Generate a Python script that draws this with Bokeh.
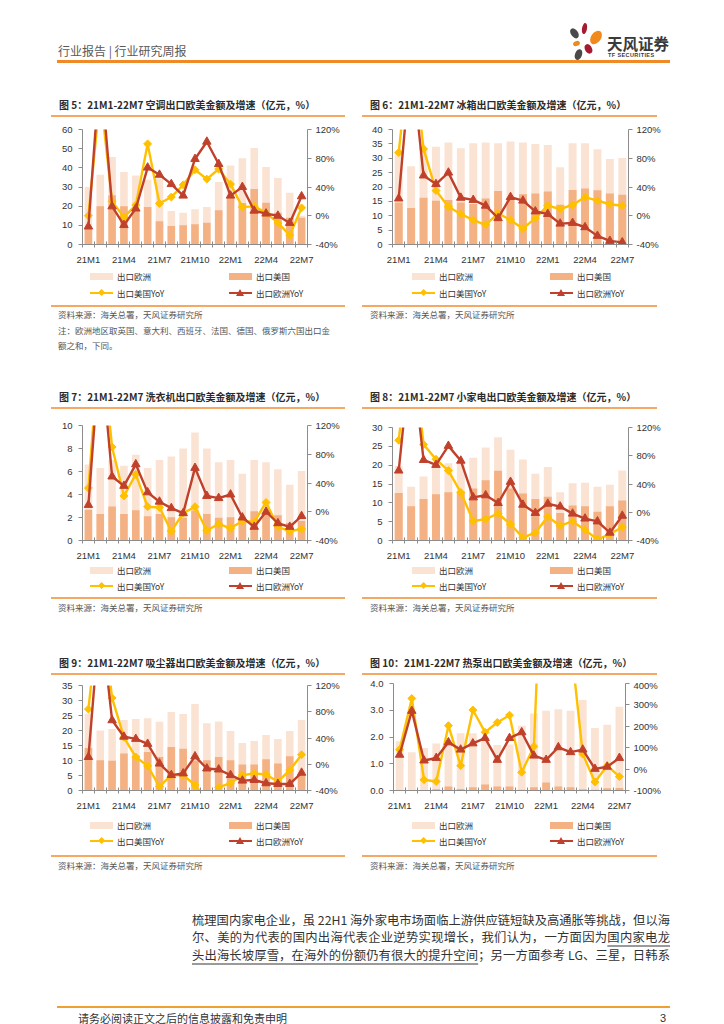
import numpy as np
from bokeh.plotting import figure
from bokeh.models import (Range1d, LinearAxis, FixedTicker, PrintfTickFormatter, Div)
from bokeh.layouts import column, row
from bokeh.embed import file_html
from bokeh.resources import INLINE

# ---------------- data ----------------
months = ["21M1", "21M2", "21M3", "21M4", "21M5", "21M6", "21M7", "21M8", "21M9",
          "21M10", "21M11", "21M12", "22M1", "22M2", "22M3", "22M4", "22M5", "22M6", "22M7"]
shown_labels = ["21M1", "21M4", "21M7", "21M10", "22M1", "22M4", "22M7"]

# 图5 空调
ac_eu = [30.0, 36.4, 45.6, 37.8, 36.0, 33.8, 34.5, 17.5, 16.6, 18.4, 19.6, 32.6, 41.2, 45.0, 50.3, 40.4, 34.7, 27.0, 15.0]
ac_us = [8.5, 20.0, 25.7, 20.0, 17.9, 19.6, 12.1, 9.7, 10.0, 10.6, 11.3, 17.9, 24.8, 21.7, 29.0, 21.8, 16.6, 14.0, 13.9]
ac_us_yoy = [0, 170, 20, -2, 15, 100, 17, 26, 43, 64, 51, 65, 44, 12, 13, 4, -10, -27, 11]
ac_eu_yoy = [-15, 210, 13, -13, 10, 67, 57, 44, 28, 79, 103, 72, 28, 40, 7, 3, 0, -10, 27]

# 图6 冰箱
fr_eu = [32.0, 27.2, 33.0, 34.0, 35.5, 33.5, 35.2, 35.5, 35.2, 35.8, 35.5, 35.0, 34.6, 26.9, 35.2, 35.2, 33.1, 29.7, 30.1]
fr_us = [14.6, 12.7, 16.3, 15.2, 15.5, 14.6, 14.1, 16.0, 18.6, 16.3, 17.5, 17.7, 18.4, 13.8, 19.0, 19.5, 18.9, 17.7, 17.3]
fr_us_yoy = [88, 250, 93, 35, 12.6, 2.5, -6, -12.6, 3.4, -6, -18, -3.4, 14, 9.4, 15, 26, 21, 16, 14]
fr_eu_yoy = [24, 220, 56, 44, 60, 25, 22, 14, -3.4, 26, 21, 6, 2.5, -11, -10, -16, -28, -35, -37]

# 图7 洗衣机
wm_eu = [6.6, 6.3, 7.0, 6.5, 7.45, 6.3, 7.0, 7.3, 8.0, 9.4, 8.0, 6.8, 7.0, 5.8, 7.0, 6.8, 6.2, 4.85, 6.05]
wm_us = [2.68, 2.3, 2.96, 2.3, 2.62, 2.1, 2.3, 2.03, 1.97, 2.6, 2.3, 1.97, 2.03, 1.63, 2.54, 2.3, 2.2, 1.52, 1.7]
wm_us_yoy = [33, 250, 90, 22, 52, 7, 6, -27, -2, 7, -26, -17, -23, -13, -14, 13, -21, -27, -24]
wm_eu_yoy = [9.5, 230, 49, 36, 66, 27, 14, 5, -2, 61, 22, 19, 24, -8, -21, 0, -16, -21, -6]

# 图8 小家电
sa_eu = [19.8, 14.3, 17.0, 20.0, 20.5, 20.8, 22.0, 24.7, 27.4, 24.1, 21.5, 17.7, 19.5, 12.8, 15.2, 15.3, 14.3, 14.8, 18.6]
sa_us = [12.6, 9.1, 11.0, 12.3, 12.8, 13.0, 13.8, 16.0, 18.5, 13.8, 12.5, 11.0, 11.6, 7.3, 9.3, 9.1, 7.6, 9.1, 10.6]
sa_us_yoy = [102, 250, 96, 75, 59, 28, -12.4, -9.7, -1.8, -17, -36, -29, -6.4, -19, -13, -25, -38.6, -31, -21]
sa_eu_yoy = [59, 230, 74, 67, 94, 73, 21, 24, 13, 43, 10.6, -1, 12, 8, -2, -9, -13, -29, -5]

# 图9 吸尘器
vc_eu = [25.7, 20.0, 20.5, 23.5, 23.8, 24.1, 22.9, 26.2, 25.5, 28.8, 22.4, 23.0, 19.8, 15.8, 16.5, 18.5, 17.2, 19.8, 23.5]
vc_us = [14.2, 10.1, 9.9, 12.3, 11.7, 12.8, 11.2, 14.5, 13.9, 10.0, 10.1, 11.2, 10.1, 8.7, 8.7, 10.4, 9.0, 11.4, 5.0]
vc_us_yoy = [84, 250, 101, 41, 11, -2.5, -34, -16.5, -16.5, -31.6, -55, -35, -29, -16.5, -14, -15.5, -26.6, -9, 14.5]
vc_eu_yoy = [11, 230, 67, 42, 38.6, 31, 1, -16.5, -14, 12, -6.5, -8, -16.5, -25, -24, -29, -30, -30, -13]

# 图10 热泵
hp_eu = [1.84, 1.43, 1.59, 1.76, 1.80, 2.14, 2.14, 2.00, 1.70, 1.72, 2.42, 2.88, 2.98, 3.04, 2.98, 3.38, 2.34, 2.46, 3.13]
hp_us = [0.02, 0.0, 0.0, 0.05, 0.15, 0.06, 0.12, 0.22, 0.15, 0.15, 0.03, 0.12, 0.30, 0.15, 0.12, 0.05, 0.03, 0.08, 0.09]
hp_us_yoy = [91, 330, -50, -58, 203, 16, 276, 172, 218, 252, -15, 106, 1500, 1200, 600, 70, -60, 16, -35]
hp_eu_yoy = [67, 272, 40, 52, 125, 91, 120, 145, 43, 145, 172, 63, 43, 102, 79, 91, 1, 11, 52]

ticks_ac = [0, 10, 20, 30, 40, 50, 60]
ticks_fr = [0, 5, 10, 15, 20, 25, 30, 35, 40]
ticks_wm = [0, 2, 4, 6, 8, 10]
ticks_sa = [0, 5, 10, 15, 20, 25, 30]
ticks_vc = [0, 5, 10, 15, 20, 25, 30, 35]
ticks_hp = [0, 1, 2, 3, 4]
yoy_ticks = [-40, 0, 40, 80, 120]
yoy_ticks_hp = [-100, 0, 100, 200, 300, 400]

series_names = ["出口欧洲", "出口美国", "出口美国YoY", "出口欧洲YoY"]
source_text = "资料来源：海关总署，天风证券研究所"
note_lines = ["注：欧洲地区取英国、意大利、西班牙、法国、德国、俄罗斯六国出口金", "额之和，下同。"]
titles = ["图 5：21M1-22M7 空调出口欧美金额及增速（亿元，%）",
          "图 6：21M1-22M7 冰箱出口欧美金额及增速（亿元，%）",
          "图 7：21M1-22M7 洗衣机出口欧美金额及增速（亿元，%）",
          "图 8：21M1-22M7 小家电出口欧美金额及增速（亿元，%）",
          "图 9：21M1-22M7 吸尘器出口欧美金额及增速（亿元，%）",
          "图 10：21M1-22M7 热泵出口欧美金额及增速（亿元，%）"]

# ---------------- style ----------------
CSS_CJK = "'Noto Sans CJK SC', sans-serif"
NUM = "Liberation Sans"
C_EU = "#FBE3D4"
C_US = "#F4B183"
C_USY = "#FFC000"
C_EUY = "#C0412B"
AX = "#8C8C8C"
LINE_OR = "#F5A862"
BAR_W = 0.64


def make_chart(eu, us, usy, euy, lticks, lfmt, rticks, W, H, bl, br, bt, bb):
    n = len(months)
    xs = list(range(n))
    p = figure(width=W, height=H, title=None, output_backend="svg", toolbar_location=None,
               x_range=Range1d(-0.5, n - 0.5), y_range=Range1d(lticks[0], lticks[-1]),
               x_axis_type=None, y_axis_type=None,
               min_border_left=bl, min_border_right=br, min_border_top=bt, min_border_bottom=bb,
               outline_line_color=None, background_fill_color="white", border_fill_color="white")
    p.extra_y_ranges = {"yoy": Range1d(rticks[0], rticks[-1])}

    label_pos = [months.index(m) for m in shown_labels]
    xa = LinearAxis(ticker=FixedTicker(ticks=label_pos, minor_ticks=[i - 0.5 for i in range(n + 1)]),
                    major_label_overrides={i: months[i] for i in label_pos},
                    major_tick_line_color=None, major_tick_in=0, major_tick_out=0,
                    minor_tick_in=3, minor_tick_out=3, minor_tick_line_color=AX,
                    axis_line_color=AX, major_label_standoff=6,
                    major_label_text_font=NUM, major_label_text_font_size="9.5px",
                    major_label_text_color="#333333")
    p.add_layout(xa, "below")

    ya = LinearAxis(ticker=FixedTicker(ticks=lticks), formatter=PrintfTickFormatter(format=lfmt),
                    major_tick_in=0, major_tick_out=4, major_tick_line_color=AX,
                    minor_tick_line_color=None, axis_line_color=AX, major_label_standoff=6,
                    major_label_text_font=NUM, major_label_text_font_size="9.5px",
                    major_label_text_color="#333333")
    p.add_layout(ya, "left")

    ra = LinearAxis(y_range_name="yoy", ticker=FixedTicker(ticks=rticks),
                    formatter=PrintfTickFormatter(format="%d%%"),
                    major_tick_in=0, major_tick_out=4, major_tick_line_color=AX,
                    minor_tick_line_color=None, axis_line_color=AX, major_label_standoff=4,
                    major_label_text_font=NUM, major_label_text_font_size="9.5px",
                    major_label_text_color="#333333")
    p.add_layout(ra, "right")

    p.vbar(x=xs, top=eu, width=BAR_W, fill_color=C_EU, line_color=None)
    p.vbar(x=xs, top=us, width=BAR_W, fill_color=C_US, line_color=None)
    p.line(xs, usy, y_range_name="yoy", line_color=C_USY, line_width=2.4, line_join="round")
    p.scatter(xs, usy, y_range_name="yoy", marker="square", angle=np.pi / 4, size=5.6,
              fill_color=C_USY, line_color=C_USY)
    p.line(xs, euy, y_range_name="yoy", line_color=C_EUY, line_width=2.4, line_join="round")
    p.scatter(xs, euy, y_range_name="yoy", marker="triangle", size=8.5,
              fill_color=C_EUY, line_color=C_EUY)
    return p


# ---------------- html helpers ----------------
def txt(s, left, cy, size, color="#333333", lh=None, weight="normal", family=CSS_CJK, extra=""):
    lh = lh or int(round(size * 1.4))
    top = cy - lh / 2
    return (f'<div style="position:absolute;left:{left}px;top:{top}px;line-height:{lh}px;'
            f'font-size:{size}px;color:{color};font-weight:{weight};font-family:{family};'
            f'white-space:nowrap;{extra}">{s}</div>')


def hline(left, top, width, h, color):
    return (f'<div style="position:absolute;left:{left}px;top:{top}px;width:{width}px;'
            f'height:{h}px;background:{color};"></div>')


def petal(cx, cy, w, h, rot, color):
    return (f'<div style="position:absolute;left:{cx - w / 2}px;top:{cy - h / 2}px;width:{w}px;'
            f'height:{h}px;border-radius:50%;background:{color};transform:rotate({rot}deg);"></div>')


def diamond(cx, cy, color):
    return (f'<div style="position:absolute;left:{cx - 2.6}px;top:{cy - 2.6}px;width:5.2px;height:5.2px;'
            f'background:{color};transform:rotate(45deg);"></div>')


def triangle(cx, cy, color):
    return (f'<div style="position:absolute;left:{cx - 4.5}px;top:{cy - 4.5}px;width:0;height:0;'
            f'border-left:4.5px solid transparent;border-right:4.5px solid transparent;'
            f'border-bottom:7.5px solid {color};"></div>')


def box(html, w, h):
    return Div(text=f'<div style="position:relative;width:{w}px;height:{h}px;">{html}</div>',
               width=w, height=h, margin=0)


LW, RW = 352, 356


def legend_div(W, H, sx1, sx2, c1, c2):
    h = ""
    h += hline(sx1, c1 - 3.5, 23, 7, C_EU) + txt(series_names[0], sx1 + 27, c1, 8.5, lh=12)
    h += hline(sx2, c1 - 3.5, 23, 7, C_US) + txt(series_names[1], sx2 + 27, c1, 8.5, lh=12)
    h += hline(sx1, c2 - 1.2, 23, 2.4, C_USY) + diamond(sx1 + 11.5, c2, C_USY)
    h += txt(series_names[2], sx1 + 27, c2, 8.5, lh=12)
    h += hline(sx2, c2 - 1.2, 23, 2.4, C_EUY) + triangle(sx2 + 11.5, c2, C_EUY)
    h += txt(series_names[3], sx2 + 27, c2, 8.5, lh=12)
    return box(h, W, H)


def title_div(t, left_side, h, cy, ly):
    if left_side:
        html = txt(t, 51, cy, 10, "#2b2b2b", weight="bold") + hline(43, ly, 294, 1.5, LINE_OR)
        return box(html, LW, h)
    html = txt(t, 10, cy, 10, "#2b2b2b", weight="bold") + hline(2, ly, 295, 1.5, LINE_OR)
    return box(html, RW, h)


def source_div(left_side, h, ly, cy, notes=False):
    if left_side:
        html = hline(43, ly, 294, 1.5, LINE_OR) + txt(source_text, 50, cy, 8.5, "#555555", lh=12)
        if notes:
            html += txt(note_lines[0], 50, cy + 16, 8.5, "#555555", lh=12)
            html += txt(note_lines[1], 50, cy + 31, 8.5, "#555555", lh=12)
        return box(html, LW, h)
    html = hline(2, ly, 295, 1.5, LINE_OR) + txt(source_text, 10, cy, 8.5, "#555555", lh=12)
    return box(html, RW, h)


# ---------------- header ----------------
hdr = ""
hdr += txt("行业报告 | 行业研究周报", 50, 43, 12, "#595959", lh=16)
hdr += hline(49, 52, 613, 2.5, "#EF8A26")
hdr += petal(566, 25, 6.5, 11, -35, "#4A4A4A")
hdr += petal(576, 20, 4.5, 11, 10, "#A51C30")
hdr += petal(588, 29, 10, 15, 35, "#F08A1E")
hdr += petal(568, 35, 7, 5, -20, "#F08A1E")
hdr += petal(580, 41, 6.5, 10, -30, "#A51C30")
hdr += petal(570, 46, 6.5, 11, 20, "#4A4A4A")
hdr += txt("天风证券", 599, 35, 15.5, "#3a3a3a", lh=18, weight="bold")
hdr += txt("TF SECURITIES", 600, 47, 5.5, "#3a3a3a", lh=8, weight="bold",
           family="'Liberation Sans', sans-serif", extra="letter-spacing:0.4px;")
header = box(hdr, 708, 82)

# ---------------- charts ----------------
p5 = make_chart(ac_eu, ac_us, ac_us_yoy, ac_eu_yoy, ticks_ac, "%d", yoy_ticks, LW, 146, 74, 53, 7, 24)
p6 = make_chart(fr_eu, fr_us, fr_us_yoy, fr_eu_yoy, ticks_fr, "%d", yoy_ticks, RW, 146, 32, 88, 7, 24)
l5 = legend_div(LW, 36, 82, 221, 8, 25)
l6 = legend_div(RW, 36, 52, 190, 8, 25)

p7 = make_chart(wm_eu, wm_us, wm_us_yoy, wm_eu_yoy, ticks_wm, "%d", yoy_ticks, LW, 149, 74, 53, 11, 20)
p8 = make_chart(sa_eu, sa_us, sa_us_yoy, sa_eu_yoy, ticks_sa, "%d", yoy_ticks, RW, 149, 32, 88, 13, 20)
l7 = legend_div(LW, 31, 82, 221, 7, 23)
l8 = legend_div(RW, 31, 52, 190, 7, 23)

p9 = make_chart(vc_eu, vc_us, vc_us_yoy, vc_eu_yoy, ticks_vc, "%d", yoy_ticks, LW, 134, 74, 53, 6, 22)
p10 = make_chart(hp_eu, hp_us, hp_us_yoy, hp_eu_yoy, ticks_hp, "%.1f", yoy_ticks_hp, RW, 134, 33, 91, 4, 23)
l9 = legend_div(LW, 39, 82, 221, 12, 28)
l10 = legend_div(RW, 39, 52, 190, 12, 28)

row1 = row(column(title_div(titles[0], True, 32, 15, 25), p5, l5, source_div(True, 78, 1, 10, True), spacing=0),
           column(title_div(titles[1], False, 32, 15, 25), p6, l6, source_div(False, 78, 1, 10), spacing=0),
           spacing=0)
row2 = row(column(title_div(titles[2], True, 32, 15, 25), p7, l7, source_div(True, 54, 3, 13), spacing=0),
           column(title_div(titles[3], False, 32, 15, 25), p8, l8, source_div(False, 54, 3, 13), spacing=0),
           spacing=0)
row3 = row(column(title_div(titles[4], True, 31, 15, 25), p9, l9, source_div(True, 48, 3, 13), spacing=0),
           column(title_div(titles[5], False, 31, 15, 25), p10, l10, source_div(False, 48, 3, 13), spacing=0),
           spacing=0)

# ---------------- body text & footer ----------------
UL = "text-decoration:underline;text-decoration-color:#9a9a9a;text-decoration-thickness:1.5px;text-underline-offset:3px;"
body_lines = [
    "梳理国内家电企业，虽 22H1 海外家电市场面临上游供应链短缺及高通胀等挑战，但以海",
    "尔、美的为代表的国内出海代表企业逆势实现增长，我们认为，一方面因为<span style=\"" + UL + "\">国内家电龙</span>",
    "<span style=\"" + UL + "\">头出海长坡厚雪，在海外的份额仍有很大的提升空间</span>；另一方面参考 LG、三星，日韩系",
]
body = ""
for i, ln in enumerate(body_lines):
    top = 20 + i * 17.5 - 8.5
    body += (f'<div style="position:absolute;left:184px;top:{top}px;width:478px;height:17px;'
             f'line-height:17px;font-size:12.3px;color:#333333;font-family:{CSS_CJK};'
             f'text-align:justify;text-align-last:justify;text-justify:inter-character;">{ln}</div>')
body_div = box(body, 708, 85)

foot = hline(49, 21, 613, 2, "#F0A030")
foot += txt("请务必阅读正文之后的信息披露和免责申明", 70, 33, 11, "#333333", lh=14)
foot += txt("3", 652, 33, 11, "#333333", lh=14, family="'Liberation Sans', sans-serif")
footer = box(foot, 708, 40)

page = column(header, row1, row2, row3, body_div, footer, spacing=0, margin=(8, 0, 0, 8))

open("out.html", "w").write(file_html(page, INLINE))
